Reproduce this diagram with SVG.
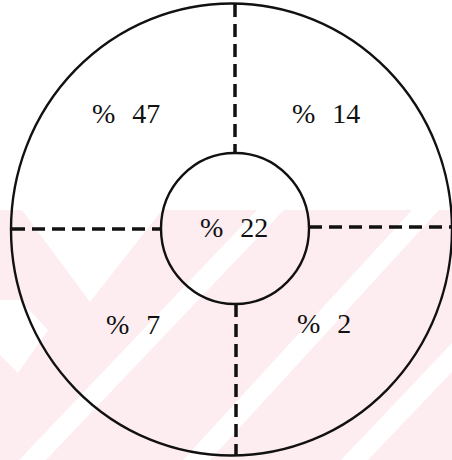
<svg xmlns="http://www.w3.org/2000/svg" width="452" height="460" viewBox="0 0 452 460">
  <style>
    .ring { fill: none; stroke: #111; stroke-width: 2.4; }
    .dash { fill: none; stroke: #111; stroke-width: 3.5; stroke-dasharray: 13 7; }
    .lbl { font-family: "Liberation Serif", "Times New Roman", serif; font-size: 28px; fill: #111; word-spacing: 10px; }
    .wm { fill: #fdedf0; }
    .wmw { fill: #ffffff; }
  </style>
  <rect width="452" height="460" fill="#ffffff"/>
  <g id="watermark">
    <rect class="wm" x="0" y="210" width="452" height="250"/>
    <polygon class="wmw" points="22,210 162,210 90,302"/>
    <polygon class="wmw" points="0,300 0,355 18,373 48,330 20,300"/>
    <polygon class="wmw" points="257,210 284,210 46,460 19,460"/>
    <polygon class="wmw" points="412,210 439,210 210,460 183,460"/>
    <polygon class="wmw" points="452,343 452,372 368,460 341,460"/>
  </g>
  <g id="connectors">
    <line class="dash" x1="235" y1="4" x2="235" y2="153"/>
    <line class="dash" x1="236" y1="304" x2="236" y2="456"/>
    <line class="dash" x1="12" y1="229" x2="161" y2="229"/>
    <line class="dash" x1="309" y1="227" x2="452" y2="227"/>
  </g>
  <g id="outer">
    <ellipse class="ring" cx="231.5" cy="229.5" rx="220.5" ry="226"/>
  </g>
  <g id="inner">
    <ellipse class="ring" cx="235" cy="228.5" rx="74" ry="75.5"/>
  </g>
  <g id="q47"><text class="lbl" x="92" y="123">% 47</text></g>
  <g id="q14"><text class="lbl" x="292" y="123">% 14</text></g>
  <g id="q22"><text class="lbl" x="200" y="237">% 22</text></g>
  <g id="q7"><text class="lbl" x="106" y="334">% 7</text></g>
  <g id="q2"><text class="lbl" x="297" y="333">% 2</text></g>
</svg>
